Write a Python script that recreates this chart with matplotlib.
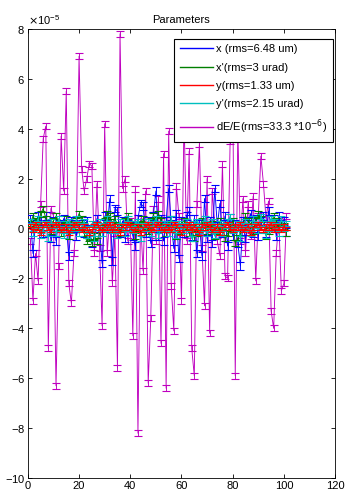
import numpy as np
import matplotlib
matplotlib.use("Agg")
import matplotlib.pyplot as plt
from matplotlib.lines import Line2D
from matplotlib.ticker import ScalarFormatter

plt.rcParams['font.family'] = ['Liberation Sans', 'DejaVu Sans']

# values in units of 1e-5
dE = [-0.5, -2.9, -1.0, -2.1, 1.0, 3.6, 4.1, -4.8, 0.8, 0.5,
      -6.3, -1.5, 3.7, 1.5, 5.5, -2.2, -3.0, -1.0, 0.3, 6.9,
      2.4, 1.5, 2.0, 2.6, 2.5, -1.0, 1.8, -0.8, -3.9, 4.2,
      -1.0, 0.5, -2.2, -0.2, -5.6, 7.8, 1.6, 2.0, -0.5, 0.3,
      -4.3, 1.6, -8.2, 0.4, -1.7, 1.5, -6.2, -3.6, 0.8, -0.5,
      1.2, -4.6, 3.0, -6.4, 3.9, -2.3, -4.1, 1.7, 0.5, -2.9,
      4.5, -0.5, 3.1, -4.8, -5.9, 1.0, 3.4, -0.8, -3.1, 2.0,
      -4.2, 1.5, 0.2, -0.5, -1.1, 2.6, -1.9, -2.0, 3.5, 5.5,
      -5.9, 4.0, -0.5, 1.2, -1.0, 1.0, -0.3, 1.3, -2.1, 0.5,
      2.9, 1.8, 0.4, 1.1, -3.3, -4.0, -1.0, 0.3, -2.5, -2.2,
      0.5]
xpos = [0.4, -1.0, 0.2, 0.5, 0.3, -0.2, 0.5, 0.1, -0.4, 0.3,
        -0.5, 0.2, 0.0, 0.4, 0.1, -1.1, 0.3, 0.2, -0.3, 0.1,
        0.2, -0.2, 0.3, 0.0, -0.6, -0.3, 0.4, 0.0, -1.4, 0.5,
        0.0, 1.2, -1.3, 0.8, 0.7, -0.2, 0.3, -0.4, 0.2, 0.1,
        -0.3, -0.7, 0.4, 1.0, 0.9, -0.2, 0.3, -0.6, 0.5, 1.5,
        -0.3, 0.4, -0.5, 0.3, 1.6, 0.2, -0.8, 0.6, -1.2, 0.3,
        -0.2, 0.5, 0.7, -0.3, 0.4, -1.0, 0.2, -1.1, 1.2, -0.4,
        0.3, -0.6, 1.6, 0.1, 1.0, -0.2, 0.5, -0.7, 0.45, -0.3,
        0.2, -0.6, -1.5, 0.3, -0.4, 0.2, 0.6, -0.2, 0.4, -0.3,
        0.3, 0.5, -0.2, 0.7, 0.1, 0.4, -0.3, 0.5, 0.2, 0.3,
        -0.15]
xang = [0.2, 0.5, 0.3, 0.1, 0.6, 0.8, 0.4, 0.2, -0.1, 0.3,
        0.5, 0.2, -0.2, 0.1, 0.4, -0.3, 0.2, 0.1, 0.3, 0.6,
        0.4, -0.2, -0.5, -0.4, -0.6, -0.3, -0.5, -0.2, 0.0, 0.3,
        0.6, 0.5, 0.2, 0.4, 0.1, -0.2, 0.0, 0.3, 0.5, 0.2,
        0.1, -0.3, 0.0, 0.2, 0.4, 0.1, -0.1, 0.3, 0.5, 0.2,
        0.6, 0.3, 0.1, -0.2, 0.2, 0.4, 0.0, -0.3, -0.1, 0.2,
        0.3, 0.1, -0.2, 0.0, -0.4, -0.2, 0.1, 0.3, 0.2, -0.1,
        0.0, 0.2, -0.3, -0.1, 0.3, 0.1, -0.4, -0.2, 0.0, 0.3,
        -0.6, -0.4, -0.2, 0.1, 0.5, 0.3, 0.2, -0.1, 0.3, 0.6,
        0.4, 0.2, -0.3, -0.1, 0.2, 0.5, 0.3, 0.0, 0.2, 0.1,
        -0.2]
ypos = [0.1, -0.1, 0.2, 0.0, -0.2, 0.1, 0.2, 0.0, -0.1, 0.1,
        0.2, 0.1, -0.1, 0.0, 0.1, -0.2, 0.0, 0.1, 0.2, 0.0,
        -0.1, 0.1, 0.0, -0.2, -0.1, 0.1, 0.2, 0.0, -0.1, 0.1,
        0.0, 0.2, -0.1, 0.1, 0.0, -0.2, 0.1, 0.0, 0.2, 0.1,
        -0.1, 0.0, 0.1, -0.2, 0.0, 0.1, 0.2, -0.1, 0.0, 0.1,
        0.2, 0.0, -0.1, 0.1, 0.0, -0.1, 0.2, 0.1, 0.0, -0.2,
        0.1, 0.0, 0.2, -0.1, 0.1, 0.0, -0.2, 0.1, 0.0, 0.2,
        0.1, -0.1, 0.0, 0.1, -0.2, 0.0, 0.1, 0.2, 0.0, -0.1,
        0.1, 0.0, 0.2, -0.1, 0.0, 0.1, -0.2, 0.0, 0.1, 0.2,
        0.0, -0.1, 0.1, 0.0, 0.2, -0.1, 0.1, 0.0, -0.1, 0.1,
        0.0]
yang = [0.3, -0.2, 0.1, 0.4, -0.3, 0.0, 0.2, -0.4, 0.3, 0.1,
        -0.2, 0.4, 0.0, -0.3, 0.2, 0.3, -0.1, 0.0, 0.4, -0.2,
        0.1, 0.3, -0.3, 0.0, 0.2, -0.4, 0.1, 0.3, -0.2, 0.0,
        0.4, -0.1, 0.2, 0.0, -0.3, 0.3, 0.1, -0.2, 0.4, 0.0,
        -0.1, 0.2, 0.3, -0.4, 0.1, 0.0, 0.3, -0.2, 0.2, 0.4,
        -0.3, 0.0, 0.2, 0.1, -0.2, 0.4, 0.0, -0.3, 0.2, 0.1,
        -0.1, 0.3, 0.0, -0.4, 0.2, 0.3, -0.1, 0.0, 0.4, -0.2,
        0.1, 0.3, -0.3, 0.0, 0.2, -0.2, 0.1, 0.3, 0.5, -0.1,
        0.0, 0.2, -0.4, 0.1, 0.3, 0.0, -0.2, 0.4, 0.1, -0.1,
        0.5, 0.2, -0.3, 0.0, 0.4, 0.3, 0.1, -0.2, 0.4, 0.0,
        0.2]

err_dE = 0.12
err_xpos = 0.15
err_xang = 0.12
err_ypos = 0.06
err_yang = 0.1

labels = ["x (rms=6.48 um)", "x'(rms=3 urad)", "y(rms=1.33 um)",
          "y'(rms=2.15 urad)", "dE/E(rms=33.3 *10$^{-6}$)"]
colors = ['#0000ff', '#007f00', '#ff0000', '#00bfbf', '#bf00bf']

scale = 1e-5
n = np.arange(1, len(dE) + 1)

fig = plt.figure(figsize=(3.48, 4.96), dpi=100)
ax = fig.add_axes([0.080, 0.036, 0.883, 0.906])

series = [(xpos, err_xpos, 0), (xang, err_xang, 1), (ypos, err_ypos, 2),
          (yang, err_yang, 3), (dE, err_dE, 4)]
zorders = [3, 4, 6, 5, 2]
for vals, err, i in series:
    v = np.array(vals) * scale
    ax.errorbar(n, v, yerr=err * scale, color=colors[i], lw=0.65,
                elinewidth=0.65, capsize=3, capthick=0.8, zorder=zorders[i])

ax.set_xlim(0, 120)
ax.set_ylim(-10e-5, 8e-5)
ax.set_xticks(np.arange(0, 121, 20))
ax.set_yticks(np.arange(-10, 9, 2) * scale)
fmt = ScalarFormatter(useMathText=True)
fmt.set_powerlimits((-5, -5))
ax.yaxis.set_major_formatter(fmt)
ax.tick_params(direction='in', top=True, right=True, labelsize=8, length=3,
               width=0.6, pad=2)
ax.yaxis.get_offset_text().set_fontsize(8)
for s in ax.spines.values():
    s.set_linewidth(0.6)
ax.set_title("Parameters", fontsize=8, pad=4)

handles = [Line2D([], [], color=c, lw=1.0) for c in colors]
leg = ax.legend(handles, labels, loc='upper right', fontsize=8,
                handlelength=3.0, handletextpad=0.3, labelspacing=0.75,
                borderpad=0.5, borderaxespad=0.0, fancybox=False,
                framealpha=1, edgecolor='black', bbox_to_anchor=(0.993, 0.978))
leg.get_frame().set_linewidth(0.8)

fig.savefig("out.png", dpi=100)
